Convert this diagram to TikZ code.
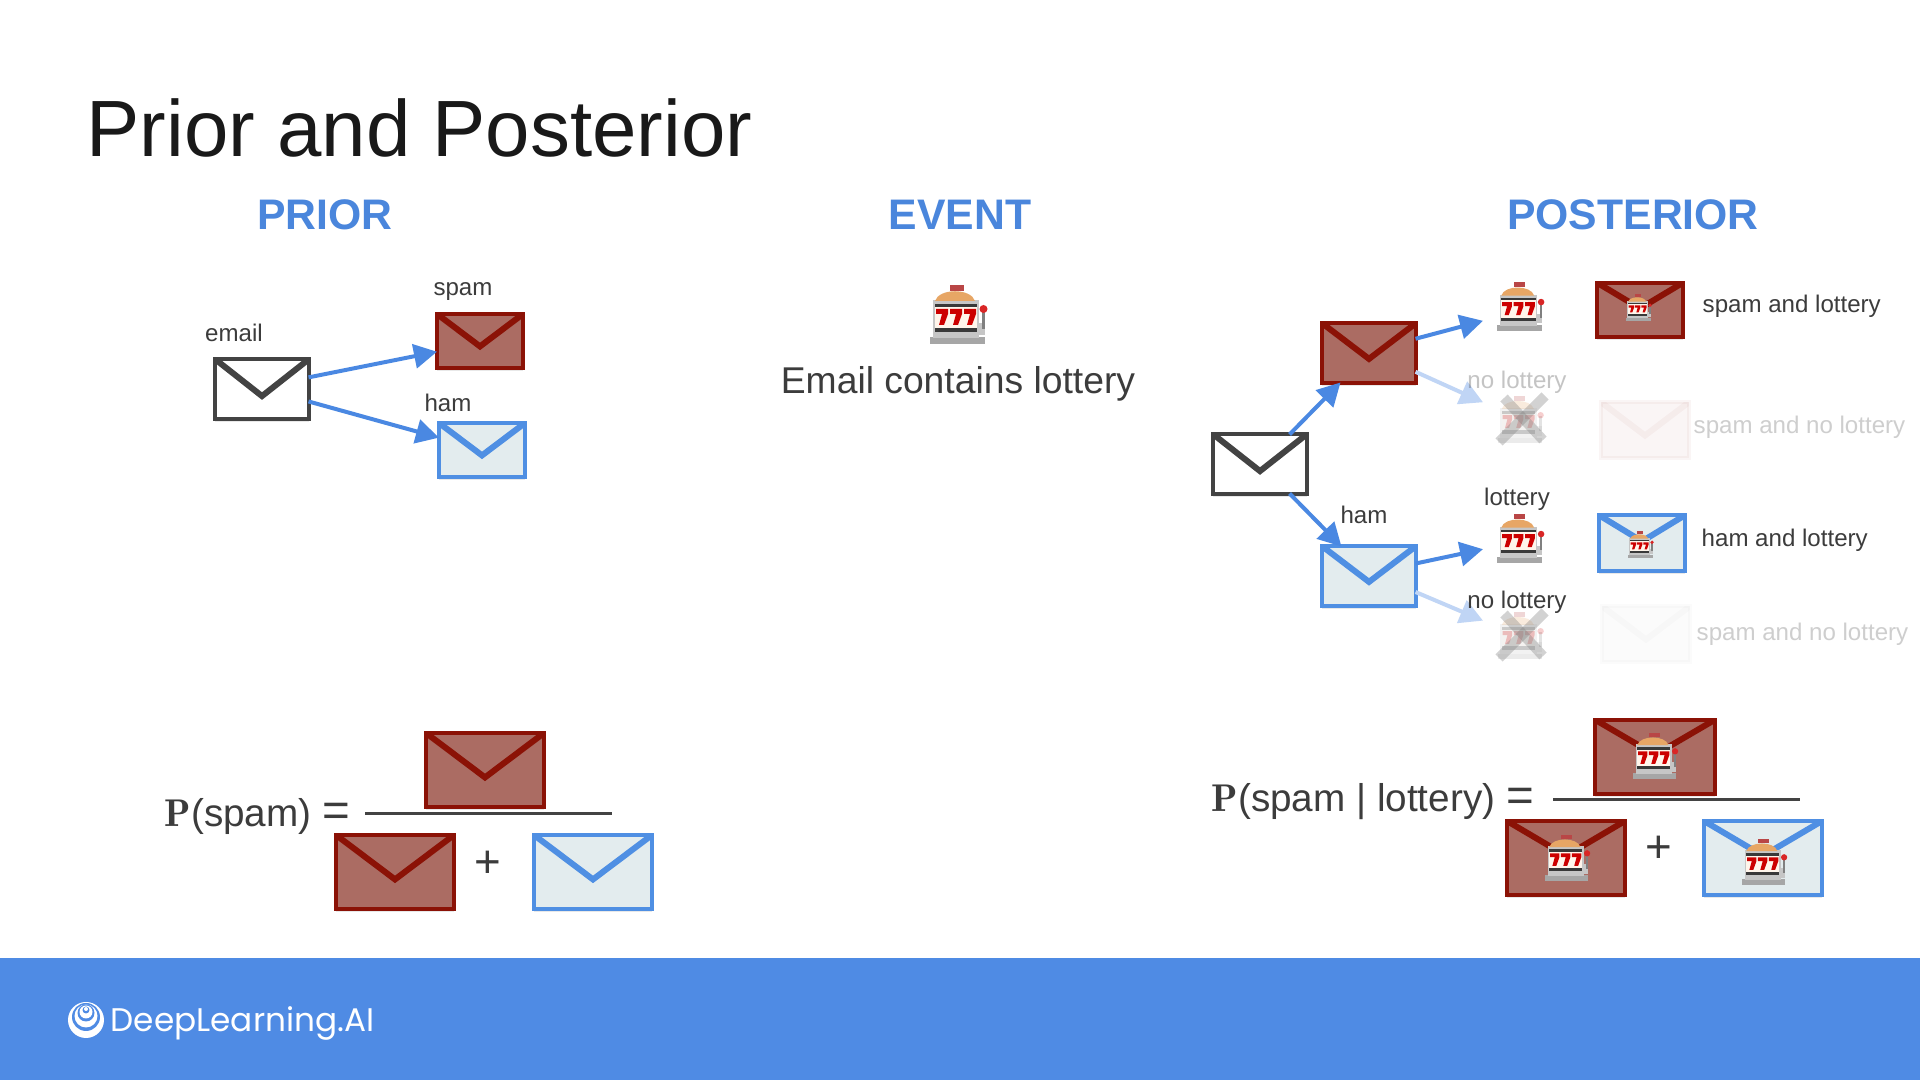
\documentclass[tikz,border=0pt]{standalone}
\usepackage{fontspec}
\setsansfont{Liberation Sans}
\newfontfamily\logofont{Poppins}
\usetikzlibrary{arrows.meta, calc, shadows}

\definecolor{spamred}{HTML}{8B1206}
\definecolor{spamfill}{HTML}{AB6C63}
\definecolor{hamblue}{HTML}{4F8FE3}
\definecolor{hamfill}{HTML}{E3ECEE}
\definecolor{emailgray}{HTML}{434343}
\definecolor{bannerblue}{HTML}{4F8BE4}
\definecolor{arrowblue}{HTML}{4A88E2}
\definecolor{labelgray}{HTML}{3C3C3C}
\definecolor{headblue}{HTML}{4A86DC}

\tikzset{
    mail/.style n args={3}{draw=#1, fill=#2, inner sep=0pt, outer sep=0pt,
        path picture={\draw[#1, line width=.06cm]
            (path picture bounding box.north west)
            -- ($(path picture bounding box.north)!#3!(path picture bounding box.south)$)
            -- (path picture bounding box.north east);}},
    soft/.style={drop shadow={opacity=.18, shadow xshift=0cm, shadow yshift=-.03cm}},
    emailbox/.style={mail={emailgray}{white}{.62}, soft, line width=.04cm, minimum width=.93cm, minimum height=.59cm},
    spambox/.style={mail={spamred}{spamfill}{.6}, soft, line width=.04cm},
    hambox/.style={mail={hamblue}{hamfill}{.6}, soft, line width=.04cm},
    spamlot/.style={mail={spamred}{spamfill}{.47}, soft, line width=.04cm},
    hamlot/.style={mail={hamblue}{hamfill}{.47}, soft, line width=.04cm},
    ghostbox/.style 2 args={mail={#1}{#1}{.6}, opacity=#2, line width=.04cm, minimum width=.87cm, minimum height=.55cm},
    slotspot/.style={minimum width=.76cm, minimum height=.46cm, inner sep=0pt, outer sep=0pt},
    pointer/.style={-{Triangle[length=.23cm, width=.24cm]}, line width=.04cm, arrowblue},
    lbl/.style={font=\sffamily\fontsize{6.85}{8}\selectfont, text=labelgray, inner sep=0pt},
    head/.style={font=\sffamily\bfseries\fontsize{12.15}{14}\selectfont, text=headblue, inner sep=0pt},
    formula/.style={font=\sffamily\fontsize{11}{13}\selectfont, text=labelgray, inner sep=0pt, anchor=west},
    plusmark/.style={font=\sffamily\fontsize{13}{16}\selectfont, text=labelgray, inner sep=0pt},
}

\newcommand{\slotmachine}[4]{
    \begin{scope}[shift={(#1,#2)}, scale=#3, opacity=#4]
        \fill[gray!70] (-29,22) rectangle (26,29);
        \fill[gray!45] (-26,-15) rectangle (20,23);
        \fill[gray!45] (20,8) rectangle (26,20);
        \fill[orange!45!brown!70] (-24,-14) .. controls (-20,-27) and (12,-27) .. (16,-14) -- cycle;
        \fill[red!45!gray] (-9,-30) rectangle (5,-24);
        \fill[orange!8] (-24,-10) rectangle (18,13);
        \fill[gray!45!black] (-24,-11) rectangle (18,-8);
        \fill[gray!45!black] (-24,13) rectangle (18,17);
        \foreach \reel in {-17,-3,11}
            \fill[red!80!black, shift={(\reel,2)}] (-6,-8) -- (6,-8) -- (6,-3) -- (2,8) -- (-3,8) -- (0,-3) -- (-6,-3) -- cycle;
        \fill[gray] (23,-5) rectangle (26,14);
        \fill[red!70!gray] (24.5,-6) circle (4);
    \end{scope}
}
\newcommand{\crossout}[2]{
    \begin{scope}[shift={(#1,#2)}]
        \draw[gray, opacity=.35, line width=.1cm] (-17,-22) -- (22,20);
        \draw[gray, opacity=.35, line width=.1cm] (24,-24) -- (-22,22);
    \end{scope}
}

\begin{document}
\begin{tikzpicture}[x=.01cm, y=-.01cm]
    \useasboundingbox (0,0) rectangle (1920,1080);
    \fill[white] (0,0) rectangle (1920,1080);

    % Draw title and headings
    \node[font=\sffamily\fontsize{22.7}{28}\selectfont, text=black!90, inner sep=0pt, anchor=base west] (title) at (86,157) {Prior and Posterior};
    \node[head] (prior) at (325,215) {PRIOR};
    \node[head] (event) at (960,215) {EVENT};
    \node[head] (posterior) at (1633,215) {POSTERIOR};

    % Draw prior tree
    \node[emailbox] (emailA) at (262,389) {};
    \node[spambox, minimum width=.86cm, minimum height=.54cm] (spamA) at (480,341) {};
    \node[hambox, minimum width=.86cm, minimum height=.54cm] (hamA) at (482,450) {};
    \node[lbl] (emailtext) at (234,333) {email};
    \node[lbl] (spamtext) at (463,292) {spam};
    \node[lbl] (hamtext) at (448,403) {ham};
    \draw[pointer] (emailA.14) -- (spamA.194);
    \draw[pointer] (emailA.-15) -- (hamA.164);

    % Draw event
    \slotmachine{959}{315}{1}{1}
    \node[font=\sffamily\fontsize{10.6}{13}\selectfont, text=labelgray, inner sep=0pt] (eventtext) at (958,384) {Email contains lottery};

    % Draw posterior tree
    \node[emailbox] (emailB) at (1260,464) {};
    \node[spambox, minimum width=.93cm, minimum height=.59cm] (spamB) at (1369,353) {};
    \node[hambox, minimum width=.93cm, minimum height=.59cm] (hamB) at (1369,576) {};
    \node[slotspot] (slotA) at (1521,307) {};
    \node[slotspot] (slotB) at (1521,420) {};
    \node[slotspot] (slotC) at (1521,539) {};
    \node[slotspot] (slotD) at (1521,636) {};
    \slotmachine{1521}{307}{.82}{1}
    \slotmachine{1521}{420}{.8}{.22}
    \slotmachine{1521}{539}{.82}{1}
    \slotmachine{1521}{636}{.8}{.22}
    \crossout{1521}{420}
    \crossout{1521}{636}
    \draw[pointer] (emailB.45) -- (spamB.226);
    \draw[pointer] (emailB.-45) -- (hamB.133);
    \draw[pointer] (spamB.17) -- (slotA.200);
    \draw[pointer, arrowblue!35] (spamB.-22) -- (slotB.155);
    \draw[pointer] (hamB.15) -- (slotC.195);
    \draw[pointer, arrowblue!35] (hamB.-19) -- (slotD.158);
    \node[lbl, opacity=.3] (nolotA) at (1517,382) {no lottery};
    \node[lbl] (hamtextB) at (1364,515) {ham};
    \node[lbl] (lotC) at (1517,499) {lottery};
    \node[lbl] (nolotD) at (1517,602) {no lottery};

    % Draw outcomes
    \node[spamlot, minimum width=.85cm, minimum height=.54cm] (outA) at (1640,310) {};
    \slotmachine{1639}{308}{.45}{1}
    \node[ghostbox={spamred}{.04}] (outB) at (1645,430) {};
    \node[hamlot, minimum width=.85cm, minimum height=.55cm] (outC) at (1642,543) {};
    \slotmachine{1641}{545}{.45}{1}
    \node[ghostbox={emailgray}{.02}] (outD) at (1646,634) {};
    \node[lbl, anchor=west] (outtextA) at (1702,306) {spam and lottery};
    \node[lbl, anchor=west, opacity=.25] (outtextB) at (1693,427) {spam and no lottery};
    \node[lbl, anchor=west] (outtextC) at (1701,540) {ham and lottery};
    \node[lbl, anchor=west, opacity=.25] (outtextD) at (1696,634) {spam and no lottery};

    % Draw prior formula
    \node[formula] (priorP) at (164,817) {$\mathbf{P}$(spam) {\fontsize{13.5}{15}\selectfont =}};
    \coordinate (barA) at (365,814);
    \coordinate (barB) at (612,814);
    \draw[emailgray, line width=.03cm] (barA) -- (barB);
    \node[spambox, minimum width=1.18cm, minimum height=.74cm] (fracA) at (485,770) {};
    \node[spambox, minimum width=1.18cm, minimum height=.74cm] (fracB) at (395,872) {};
    \node[hambox, minimum width=1.18cm, minimum height=.74cm] (fracC) at (593,872) {};
    \node[plusmark] (plusA) at (488,864) {+};

    % Draw posterior formula
    \node[formula] (postP) at (1211,802) {$\mathbf{P}$(spam | lottery) {\fontsize{13.5}{15}\selectfont =}};
    \coordinate (barC) at (1553,800);
    \coordinate (barD) at (1800,800);
    \draw[emailgray, line width=.03cm] (barC) -- (barD);
    \node[spamlot, minimum width=1.19cm, minimum height=.74cm] (fracD) at (1655,757) {};
    \node[spamlot, minimum width=1.18cm, minimum height=.74cm] (fracE) at (1566,858) {};
    \node[hamlot, minimum width=1.18cm, minimum height=.74cm] (fracF) at (1763,858) {};
    \slotmachine{1656}{756}{.78}{1}
    \slotmachine{1568}{858}{.78}{1}
    \slotmachine{1765}{862}{.78}{1}
    \node[plusmark] (plusB) at (1659,849) {+};

    % Draw banner
    \fill[bannerblue] (0,958) rectangle (1920,1080);
    \fill[white] (86,1020) circle (18);
    \fill[bannerblue] (86,1017) circle (14);
    \fill[white] (86,1016) circle (11.5);
    \fill[bannerblue] (86,1013) circle (8.5);
    \fill[white] (86,1012) circle (6.5);
    \fill[bannerblue] (86,1010) circle (3.5);
    \fill[white] (86,1009) circle (2);
    \node[font=\logofont\fontsize{9.3}{10}\selectfont, text=white, inner sep=0pt, anchor=west] (brand) at (110,1023) {DeepLearning.AI};
\end{tikzpicture}
\end{document}
